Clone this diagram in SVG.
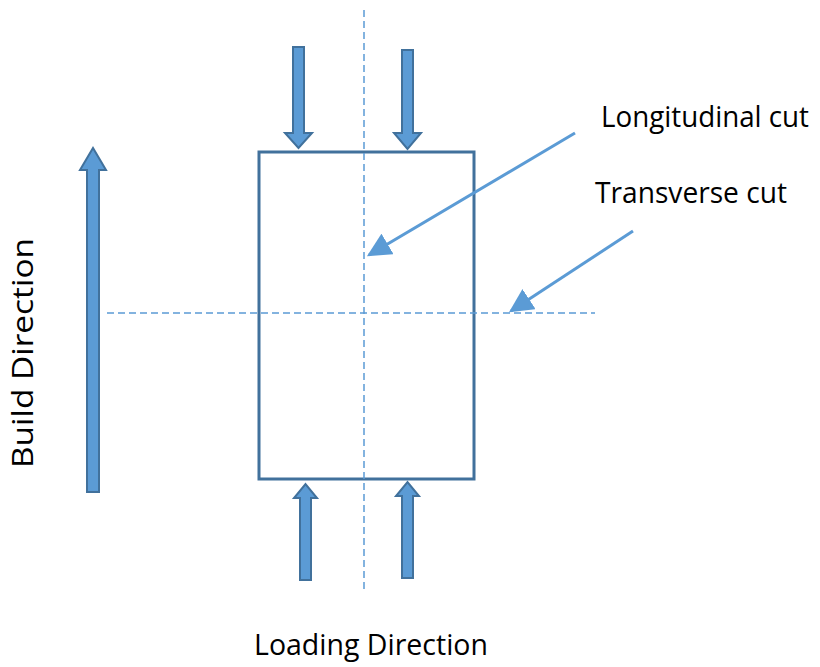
<svg xmlns="http://www.w3.org/2000/svg" width="820" height="667" viewBox="0 0 820 667">
<style>
.lbl{font-family:"Open Sans","Noto Sans","Liberation Sans",sans-serif;fill:#000;}
.blk{fill:#5B9BD5;stroke:#41719C;stroke-width:2;stroke-linejoin:miter;}
.dash{stroke:#5B9BD5;stroke-width:1.5;stroke-dasharray:7,4;fill:none;}
.ptr{stroke:#5B9BD5;stroke-width:3;fill:none;}
</style>
<defs>
<marker id="ah" viewBox="0 0 10 10" refX="9" refY="5" markerWidth="8" markerHeight="8" markerUnits="strokeWidth" orient="auto">
<path d="M0,0 L10,5 L0,10 z" fill="#5B9BD5"/>
</marker>
</defs>
<rect width="820" height="667" fill="#fff"/>
<g id="specimen">
<rect x="259" y="152" width="215" height="327" fill="none" stroke="#41719C" stroke-width="3"/>
</g>
<g id="connectors">
<line class="dash" x1="364" y1="10" x2="364" y2="592"/>
<line class="dash" x1="107" y1="313" x2="595" y2="313"/>
<line class="ptr" x1="575" y1="133" x2="369" y2="255" marker-end="url(#ah)"/>
<line class="ptr" x1="633" y1="231" x2="511" y2="311" marker-end="url(#ah)"/>
</g>
<g id="build-arrow">
<path class="blk" d="M87,492 L99,492 L99,170 L106,170 L93,148 L80,170 L87,170 Z"/>
</g>
<g id="load-top-left">
<path class="blk" d="M293,47 L304,47 L304,133 L312,133 L298.5,148 L285,133 L293,133 Z"/>
</g>
<g id="load-top-right">
<path class="blk" d="M402,50 L413,50 L413,133 L421,133 L407.5,149 L394,133 L402,133 Z"/>
</g>
<g id="load-bottom-left">
<path class="blk" d="M300,580 L311,580 L311,498 L317,498 L305.5,484 L294,498 L300,498 Z"/>
</g>
<g id="load-bottom-right">
<path class="blk" d="M402,578 L413,578 L413,496 L419,496 L407.5,482 L396,496 L402,496 Z"/>
</g>
<g id="label-longitudinal">
<text class="lbl" x="601" y="127" font-size="29" textLength="208" lengthAdjust="spacingAndGlyphs">Longitudinal cut</text>
</g>
<g id="label-transverse">
<text class="lbl" x="595" y="203" font-size="29" textLength="192" lengthAdjust="spacingAndGlyphs">Transverse cut</text>
</g>
<g id="label-loading">
<text class="lbl" x="254" y="655" font-size="29" textLength="234" lengthAdjust="spacingAndGlyphs">Loading Direction</text>
</g>
<g id="label-build">
<text class="lbl" transform="translate(33,468) rotate(-90)" x="0" y="0" font-size="30" textLength="230" lengthAdjust="spacingAndGlyphs">Build Direction</text>
</g>
</svg>
